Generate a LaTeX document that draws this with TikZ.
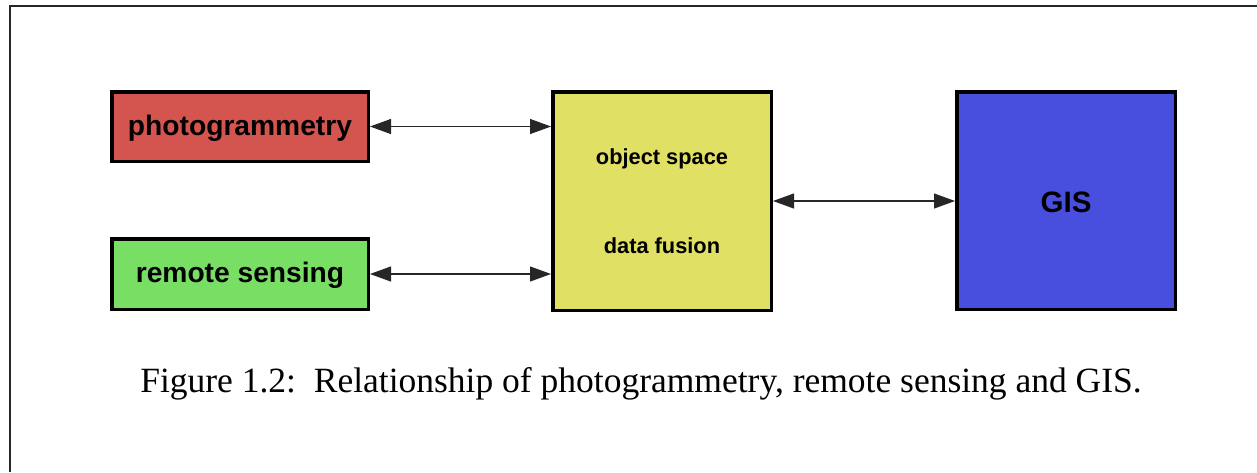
\documentclass[tikz,border=0pt]{standalone}
\usepackage{fontspec}
\setmainfont{Liberation Serif}
\newfontfamily\boxfont{Liberation Sans}
\usetikzlibrary{arrows.meta}
\definecolor{cred}{RGB}{212,84,80}
\definecolor{cgreen}{RGB}{120,222,100}
\definecolor{cyellow}{RGB}{224,224,100}
\definecolor{cblue}{RGB}{72,78,222}
\tikzset{
  blk/.style={draw=black, line width=3.5pt, rectangle, inner sep=0pt},
  lbl/.style={font=\boxfont\bfseries, text=black, inner sep=0pt},
  link/.style={line width=1.1pt, black!85, {Triangle[length=21pt,width=15pt]}-{Triangle[length=21pt,width=15pt]}},
  frameline/.style={line width=1.5pt, black!85}
}
\begin{document}
\begin{tikzpicture}[x=1pt,y=-1pt]
\useasboundingbox (0,0) rectangle (1257,472);
\coordinate (fa) at (10,472);
\coordinate (fb) at (10,6);
\coordinate (fc) at (1257,6);
\draw[frameline] (fa) -- (fb) -- (fc);

\node[blk, fill=cred, minimum width=256.5pt, minimum height=69.5pt] (photo) at (240,126.5) {};
\node[lbl, font=\boxfont\bfseries\fontsize{28.2}{32}\selectfont] (photot) at (240,128) {photogrammetry};

\node[blk, fill=cgreen, minimum width=256.5pt, minimum height=70.5pt] (remote) at (240,274) {};
\node[lbl, font=\boxfont\bfseries\fontsize{28.2}{32}\selectfont] (remotet) at (240,275.5) {remote sensing};

\node[blk, fill=cyellow, minimum width=218.5pt, minimum height=218.5pt] (fusion) at (662,201) {};
\node[lbl, font=\boxfont\bfseries\fontsize{21.8}{26}\selectfont] (objt) at (662,159) {object space};
\node[lbl, font=\boxfont\bfseries\fontsize{21.8}{26}\selectfont] (fust) at (662,246) {data fusion};

\node[blk, fill=cblue, minimum width=218.5pt, minimum height=217.5pt] (gis) at (1066,200.5) {};
\node[lbl, font=\boxfont\bfseries\fontsize{29.5}{34}\selectfont] (gist) at (1066,202) {GIS};

\draw[link] (photo.east) -- (photo.east -| fusion.west);
\draw[link] (remote.east) -- (remote.east -| fusion.west);
\draw[link] (fusion.east) -- (fusion.east -| gis.west);

\node[anchor=base, inner sep=0pt, font=\fontsize{35.5}{40}\selectfont] (cap) at (641,392) {Figure 1.2:\ \ Relationship of photogrammetry, remote sensing and GIS.};
\end{tikzpicture}
\end{document}
